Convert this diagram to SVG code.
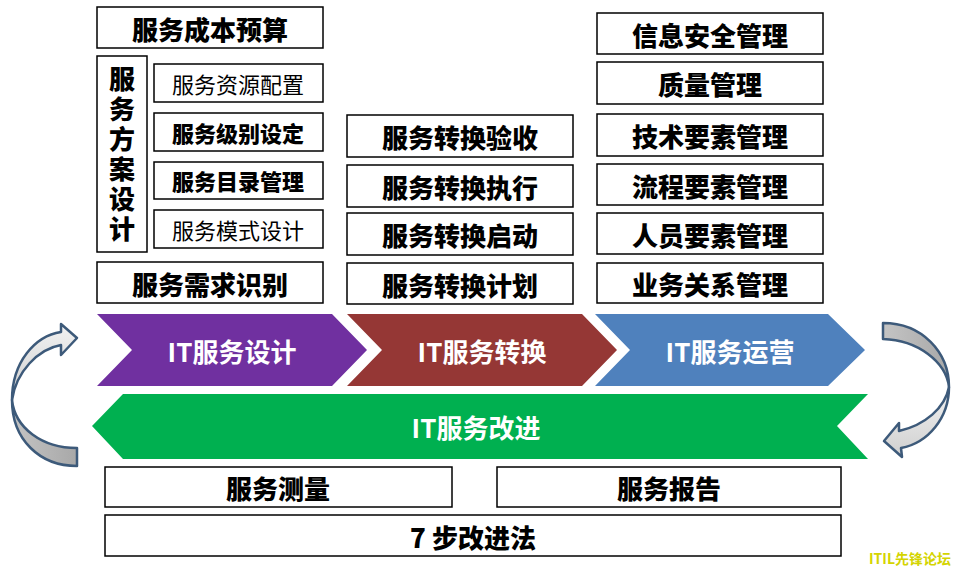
<svg xmlns="http://www.w3.org/2000/svg" width="955" height="569" viewBox="0 0 955 569">
<style>
.box{fill:#fff;stroke:#000;stroke-width:1.5}
.t{font-family:"Noto Sans CJK SC","Microsoft YaHei",sans-serif;text-anchor:middle;dominant-baseline:central;fill:#000}
.b{font-weight:900;font-size:26px}
.n{font-weight:normal;font-size:22px}
.w{font-family:"Noto Sans CJK SC",sans-serif;font-weight:bold;font-size:26px;fill:#fff;text-anchor:middle;dominant-baseline:central}
.arr{stroke:#3d5a7a;stroke-width:2.5;stroke-linejoin:round}
</style>
<defs>
<linearGradient id="gl" x1="0" y1="0" x2="0" y2="1">
<stop offset="0" stop-color="#f2f2f2"/><stop offset="1" stop-color="#cfcfcf"/>
</linearGradient>
<linearGradient id="gd" x1="0" y1="0" x2="1" y2="0">
<stop offset="0" stop-color="#c4c4c4"/><stop offset="1" stop-color="#a8a8a8"/>
</linearGradient>
</defs>
<rect width="955" height="569" fill="#fff"/>

<!-- Design column -->
<g id="n-cost"><rect class="box" x="97" y="7" width="226" height="41"/><text class="t b" x="210" y="28">服务成本预算</text></g>
<g id="n-plan"><rect class="box" x="97" y="56" width="50" height="196"/>
<text class="t b" x="122" y="156" writing-mode="vertical-rl" style="letter-spacing:4px">服务方案设计</text></g>
<g id="n-resource"><rect class="box" x="154" y="64" width="169" height="38"/><text class="t n" x="238" y="83">服务资源配置</text></g>
<g id="n-level"><rect class="box" x="154" y="113" width="169" height="38"/><text class="t b" x="238" y="132" style="font-size:22px">服务级别设定</text></g>
<g id="n-catalog"><rect class="box" x="154" y="162" width="169" height="37"/><text class="t b" x="238" y="180" style="font-size:22px">服务目录管理</text></g>
<g id="n-mode"><rect class="box" x="154" y="210" width="169" height="38"/><text class="t n" x="238" y="229">服务模式设计</text></g>
<g id="n-demand"><rect class="box" x="97" y="262" width="226" height="41"/><text class="t b" x="210" y="283">服务需求识别</text></g>

<!-- Transition column -->
<g id="n-accept"><rect class="box" x="347" y="115" width="226" height="42"/><text class="t b" x="460" y="136">服务转换验收</text></g>
<g id="n-exec"><rect class="box" x="347" y="165" width="226" height="42"/><text class="t b" x="460" y="186">服务转换执行</text></g>
<g id="n-start"><rect class="box" x="347" y="213" width="226" height="42"/><text class="t b" x="460" y="234">服务转换启动</text></g>
<g id="n-tplan"><rect class="box" x="347" y="263" width="226" height="41"/><text class="t b" x="460" y="284">服务转换计划</text></g>

<!-- Operation column -->
<g id="n-sec"><rect class="box" x="597" y="13" width="226" height="41"/><text class="t b" x="710" y="34">信息安全管理</text></g>
<g id="n-qual"><rect class="box" x="597" y="62" width="226" height="42"/><text class="t b" x="710" y="83">质量管理</text></g>
<g id="n-tech"><rect class="box" x="597" y="114" width="226" height="42"/><text class="t b" x="710" y="135">技术要素管理</text></g>
<g id="n-proc"><rect class="box" x="597" y="164" width="226" height="41"/><text class="t b" x="710" y="185">流程要素管理</text></g>
<g id="n-people"><rect class="box" x="597" y="213" width="226" height="41"/><text class="t b" x="710" y="234">人员要素管理</text></g>
<g id="n-biz"><rect class="box" x="597" y="263" width="226" height="40"/><text class="t b" x="710" y="283">业务关系管理</text></g>

<!-- Chevrons -->
<g id="n-design"><polygon points="97,314 332,314 367,350 332,386 97,386 132,350" fill="#7030a0"/><text class="w" x="232" y="350">IT服务设计</text></g>
<g id="n-transition"><polygon points="347,314 582,314 617,350 582,386 347,386 382,350" fill="#953735"/><text class="w" x="482" y="350">IT服务转换</text></g>
<g id="n-operation"><polygon points="595,314 828,314 865,350 828,386 595,386 630,350" fill="#4f81bd"/><text class="w" x="730" y="350">IT服务运营</text></g>
<g id="n-improve"><polygon points="92,426 123,394 868,394 837,426 868,459 123,459" fill="#00b050"/><text class="w" x="476" y="426">IT服务改进</text></g>

<!-- Bottom -->
<g id="n-measure"><rect class="box" x="105" y="467" width="347" height="40"/><text class="t b" x="278" y="487">服务测量</text></g>
<g id="n-report"><rect class="box" x="497" y="467" width="344" height="40"/><text class="t b" x="669" y="487">服务报告</text></g>
<g id="n-7step"><rect class="box" x="105" y="515" width="736" height="41"/><text class="t b" x="473" y="536">7 步改进法</text></g>

<!-- Cycle arrows -->
<g id="connectors">
<path class="arr" fill="url(#gd)" d="M77,466 C40,466 12,440 12,400 C15,428 42,448 77,448 Z"/>
<path class="arr" fill="url(#gl)" d="M12,400 C12,362 35,336 61,332 L61,324 L77,338 L61,355 L61,345 C38,349 16,372 12,400 Z"/>
<path class="arr" fill="url(#gd)" d="M883,323 C922,323 949,352 949,387 C946,362 918,340 883,339 Z"/>
<path class="arr" fill="url(#gl)" d="M949,387 C949,418 928,443 901,448 L902,457 L884,441 L899,423 L899,431 C925,425 945,408 949,387 Z"/>
</g>

<text x="910" y="558" font-family="'Noto Sans CJK SC',sans-serif" font-weight="bold" font-size="14" fill="#d4d400" text-anchor="middle" dominant-baseline="central">ITIL先锋论坛</text>
</svg>
